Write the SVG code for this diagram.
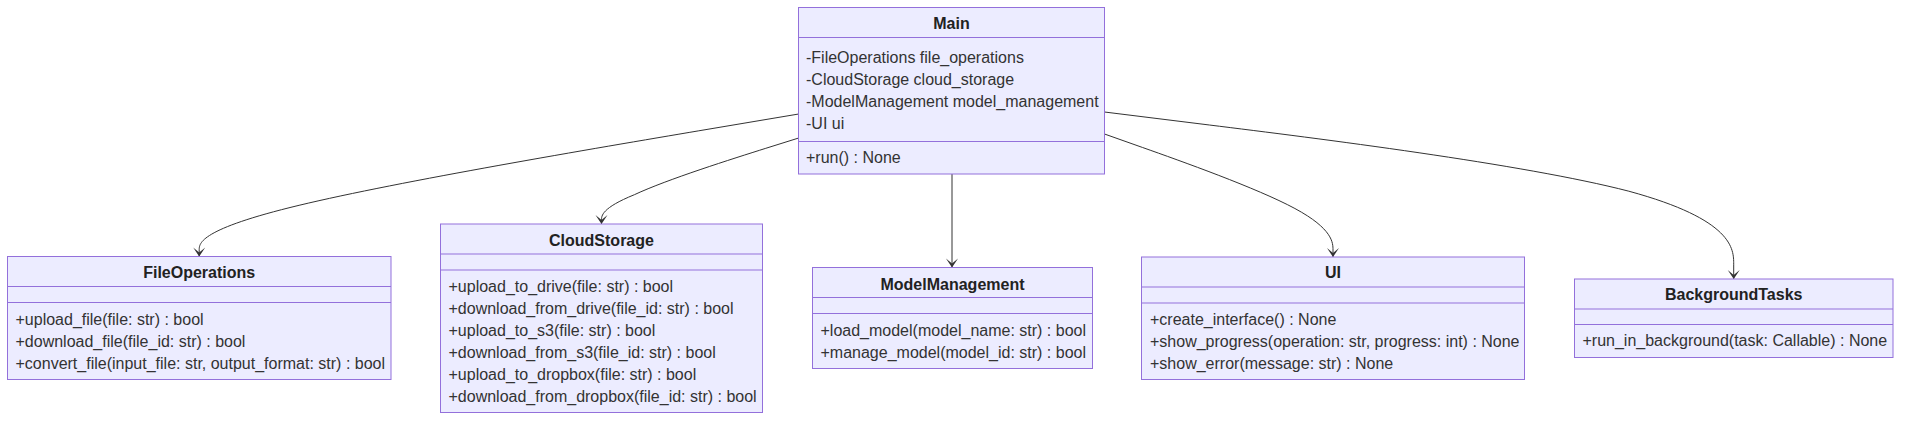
<svg xmlns="http://www.w3.org/2000/svg" width="1909" height="422" viewBox="0 0 1909 422">
<style>
.box{fill:#ECECFF;stroke:#9370DB;stroke-width:1}
.sep{stroke:#9370DB;stroke-width:1}
.title{font-family:"Liberation Sans",Arial,sans-serif;font-size:16px;font-weight:bold;fill:#222;text-anchor:middle}
.mem{font-family:"Liberation Sans",Arial,sans-serif;font-size:16px;fill:#333}
.edge{fill:none;stroke:#333;stroke-width:1}
</style>
<defs>
<marker id="arrow" viewBox="0 0 20 14" refX="18" refY="7" markerWidth="20" markerHeight="14" markerUnits="userSpaceOnUse" orient="auto">
<path d="M 18,7 L9,13 L14,7 L9,1 Z" fill="#333"/>
</marker>
</defs>
<g id="connectors">
<path class="edge" marker-end="url(#arrow)" d="M798.7,114 L698.8,130.8 C598.9,147.7 399,181.3 299.1,205.3 C199.2,229.3 199.2,243.3 199.2,250 L199.2,256.5"/>
<path class="edge" marker-end="url(#arrow)" d="M798.7,138 L765.8,148.3 C733,158.7 667.2,179.3 634.4,194.7 C601.5,208 601.5,216 601.5,220 L601.5,224"/>
<path class="edge" marker-end="url(#arrow)" d="M952,174 L952,267.5"/>
<path class="edge" marker-end="url(#arrow)" d="M1104.5,134 L1142.6,147.5 C1180.7,161 1256.8,188 1294.9,208.5 C1333,229 1333,243 1333,250 L1333,257"/>
<path class="edge" marker-end="url(#arrow)" d="M1104.5,112 L1209.4,125 C1314.2,138 1524,164 1628.8,191.2 C1733.7,219.7 1733.7,249.3 1733.7,264.2 L1733.7,279"/>
</g>
<g id="Main">
<rect class="box" x="798.5" y="7.5" width="306" height="166.5"/>
<line class="sep" x1="798.5" y1="37.5" x2="1104.5" y2="37.5"/>
<line class="sep" x1="798.5" y1="141.5" x2="1104.5" y2="141.5"/>
<text class="title" x="951.5" y="28.5">Main</text>
<text class="mem" x="806" y="63">-FileOperations file_operations</text>
<text class="mem" x="806" y="85">-CloudStorage cloud_storage</text>
<text class="mem" x="806" y="107">-ModelManagement model_management</text>
<text class="mem" x="806" y="129">-UI ui</text>
<text class="mem" x="806" y="163">+run() : None</text>
</g>
<g id="FileOperations">
<rect class="box" x="7.5" y="256.5" width="383.5" height="123"/>
<line class="sep" x1="7.5" y1="286.5" x2="391" y2="286.5"/>
<line class="sep" x1="7.5" y1="302.5" x2="391" y2="302.5"/>
<text class="title" x="199.2" y="278">FileOperations</text>
<text class="mem" x="15.5" y="324.5">+upload_file(file: str) : bool</text>
<text class="mem" x="15.5" y="346.5">+download_file(file_id: str) : bool</text>
<text class="mem" x="15.5" y="368.5">+convert_file(input_file: str, output_format: str) : bool</text>
</g>
<g id="CloudStorage">
<rect class="box" x="440.5" y="224" width="322" height="188.5"/>
<line class="sep" x1="440.5" y1="254" x2="762.5" y2="254"/>
<line class="sep" x1="440.5" y1="270" x2="762.5" y2="270"/>
<text class="title" x="601.5" y="245.5">CloudStorage</text>
<text class="mem" x="448.5" y="291.5">+upload_to_drive(file: str) : bool</text>
<text class="mem" x="448.5" y="313.5">+download_from_drive(file_id: str) : bool</text>
<text class="mem" x="448.5" y="335.5">+upload_to_s3(file: str) : bool</text>
<text class="mem" x="448.5" y="357.5">+download_from_s3(file_id: str) : bool</text>
<text class="mem" x="448.5" y="379.5">+upload_to_dropbox(file: str) : bool</text>
<text class="mem" x="448.5" y="401.5">+download_from_dropbox(file_id: str) : bool</text>
</g>
<g id="ModelManagement">
<rect class="box" x="812.5" y="267.5" width="280" height="101"/>
<line class="sep" x1="812.5" y1="297.5" x2="1092.5" y2="297.5"/>
<line class="sep" x1="812.5" y1="313.5" x2="1092.5" y2="313.5"/>
<text class="title" x="952.5" y="289.5">ModelManagement</text>
<text class="mem" x="820.5" y="335.5">+load_model(model_name: str) : bool</text>
<text class="mem" x="820.5" y="357.5">+manage_model(model_id: str) : bool</text>
</g>
<g id="UI">
<rect class="box" x="1141.5" y="257" width="383" height="122.5"/>
<line class="sep" x1="1141.5" y1="287" x2="1524.5" y2="287"/>
<line class="sep" x1="1141.5" y1="303" x2="1524.5" y2="303"/>
<text class="title" x="1333" y="278">UI</text>
<text class="mem" x="1150" y="324.5">+create_interface() : None</text>
<text class="mem" x="1150" y="346.5">+show_progress(operation: str, progress: int) : None</text>
<text class="mem" x="1150" y="368.5">+show_error(message: str) : None</text>
</g>
<g id="BackgroundTasks">
<rect class="box" x="1574.5" y="279" width="318.5" height="78.5"/>
<line class="sep" x1="1574.5" y1="309" x2="1893" y2="309"/>
<line class="sep" x1="1574.5" y1="324.5" x2="1893" y2="324.5"/>
<text class="title" x="1733.7" y="300">BackgroundTasks</text>
<text class="mem" x="1582.5" y="346">+run_in_background(task: Callable) : None</text>
</g>
</svg>
